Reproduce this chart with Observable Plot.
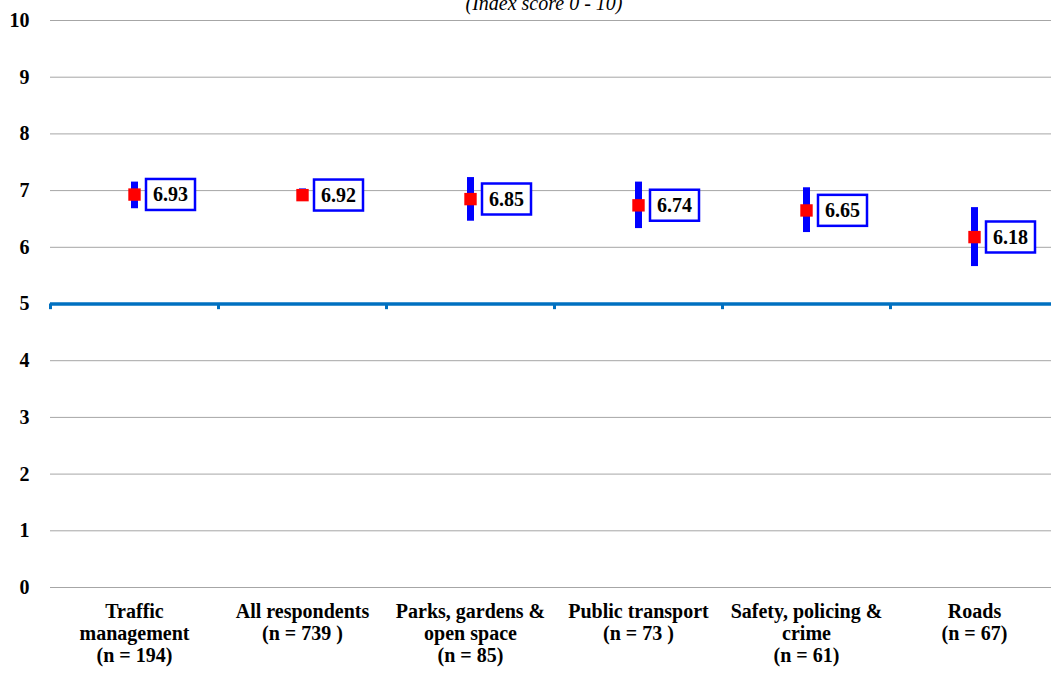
<!DOCTYPE html>
<html><head><meta charset="utf-8">
<script src="https://cdn.jsdelivr.net/npm/d3@7"></script>
<script src="https://cdn.jsdelivr.net/npm/@observablehq/plot@0.6"></script>
<style>
html,body{margin:0;padding:0;background:#fff;overflow:hidden}
svg, svg text{font-family:"Liberation Serif", "DejaVu Serif", serif !important}
</style>
</head><body><div id="chart"></div>
<script>
const categories = ["Traffic management","All respondents","Parks, gardens & open space","Public transport","Safety, policing & crime","Roads"];
const tickLabels = ["Traffic\nmanagement\n(n = 194)","All respondents\n(n = 739 )","Parks, gardens &\nopen space\n(n = 85)","Public transport\n(n = 73 )","Safety, policing &\ncrime\n(n = 61)","Roads\n(n = 67)"];
const means = [6.93, 6.92, 6.85, 6.74, 6.65, 6.18];
const lower = [6.68, 6.82, 6.46, 6.33, 6.26, 5.66];
const upper = [7.15, 7.03, 7.23, 7.15, 7.05, 6.70];
const yTicks = [0,1,2,3,4,5,6,7,8,9,10];
const threshold = 5;
const title = "(Index score 0 - 10)";

const data = categories.map((c, i) => ({cat: c, mean: means[i], lo: lower[i], hi: upper[i], label: means[i].toFixed(2)}));

const xRange = [50, 1058];
const half = (xRange[1] - xRange[0]) / categories.length / 2;

const chart = Plot.plot({
  width: 1051,
  height: 673,
  marginLeft: 50,
  marginRight: 0,
  marginTop: 20,
  marginBottom: 86,
  style: "font-family: 'Liberation Serif', serif; font-size: 20px; background: #fff; color: #000;",
  x: {type: "band", domain: categories, range: xRange, padding: 0, axis: null},
  y: {domain: [0, 10], label: null},
  marks: [
    Plot.ruleY(yTicks, {stroke: "#a6a6a6", strokeWidth: 1}),
    Plot.ruleY([threshold], {stroke: "#0070c0", strokeWidth: 3.5}),
    Plot.ruleX(categories, {x: d => d, y1: threshold, y2: threshold - 0.1, dx: -half, stroke: "#0070c0", strokeWidth: 3}),
    Plot.axisY({ticks: yTicks, tickSize: 0, tickPadding: 21, fontWeight: "bold", fontSize: 20, label: null}),
    Plot.text(categories, {x: d => d, y: 0, text: (d, i) => tickLabels[i], lineAnchor: "top", dy: 15, lineHeight: 1.1, fontWeight: "bold", fontSize: 20, fill: "#000"}),
    Plot.ruleX(data, {x: "cat", y1: "lo", y2: "hi", stroke: "#0000ff", strokeWidth: 7}),
    Plot.dot(data, {x: "cat", y: "mean", symbol: "square", r: 7, fill: "#ff0000", stroke: null}),
    Plot.text(data, {x: "cat", y: "mean", text: "label", dx: 36, fontWeight: "bold", fontSize: 20, fill: "#000"}),
    Plot.text([title], {frameAnchor: "top", dy: -25, dx: -7, fontStyle: "italic", fontSize: 20, fill: "#000"})
  ]
});
document.getElementById("chart").appendChild(chart);

d3.select(chart).selectAll("text")
  .filter(function() { return /^\d\.\d\d$/.test(this.textContent) && this.parentNode.tagName === "g" && !this.closest('[aria-label^="y-axis"]'); })
  .each(function() {
    const b = this.getBBox();
    const w = 49, h = 31;
    const cx = b.x + b.width / 2, cy = b.y + b.height / 2;
    d3.select(this.parentNode).insert("rect", () => this)
      .attr("x", cx - w / 2).attr("y", cy - h / 2 + 0.5)
      .attr("width", w).attr("height", h)
      .attr("transform", this.getAttribute("transform"))
      .attr("fill", "#fff").attr("stroke", "#0000ff").attr("stroke-width", 2.5);
  });
</script>
</body></html>
